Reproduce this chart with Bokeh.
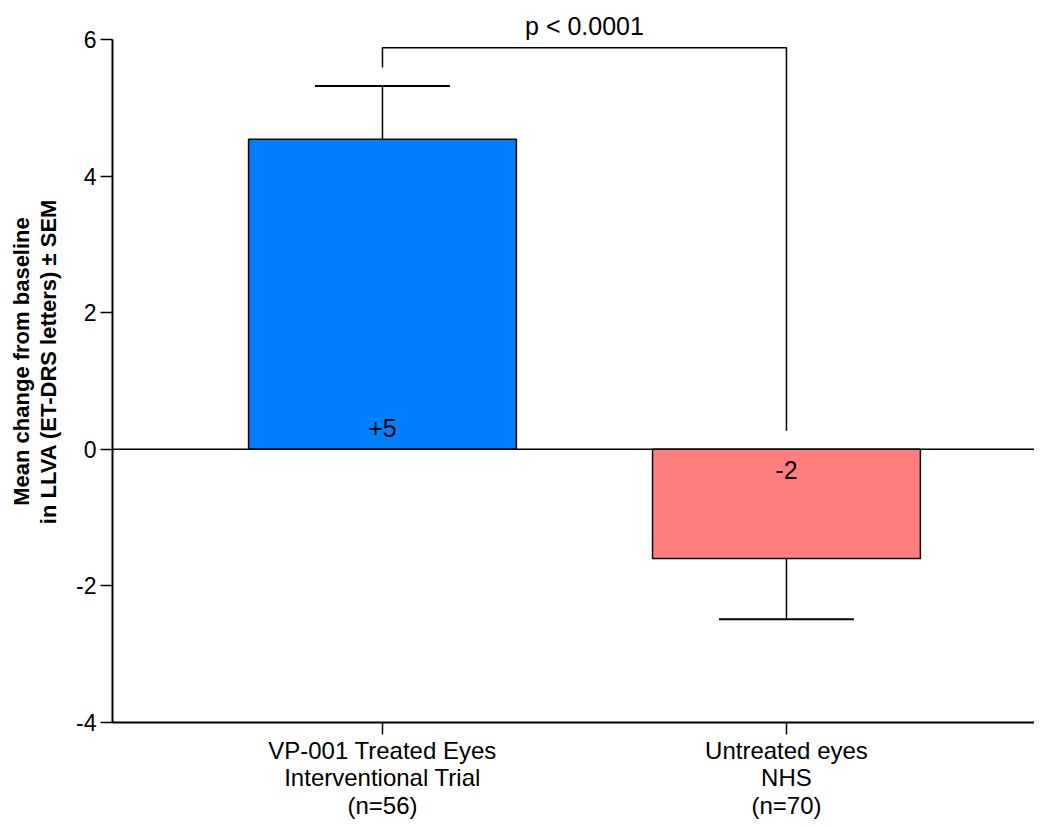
from bokeh.plotting import figure
from bokeh.models import FixedTicker, Span, Range1d, ColumnDataSource
from bokeh.core.properties import value
from bokeh.embed import file_html
from bokeh.resources import INLINE
import numpy as np

# ---- data ----
categories = ["VP-001 Treated Eyes\nInterventional Trial\n(n=56)",
              "Untreated eyes\nNHS\n(n=70)"]
means = [4.54, -1.60]
sems = [0.78, 0.89]
bar_labels = ["+5", "-2"]
bar_colors = ["#007FFF", "#FF7F7F"]
p_text = "p < 0.0001"
y_ticks = [-4, -2, 0, 2, 4, 6]

FONT = "Liberation Sans"

xs = np.arange(1, len(categories) + 1, dtype=float)
m = np.array(means)
s = np.array(sems)
sign = np.sign(m)
err_end = m + sign * s

p = figure(frame_width=922, frame_height=722, output_backend="svg",
           toolbar_location=None,
           x_range=Range1d(0.3317, 2.614), y_range=Range1d(-4, 6.57),
           min_border_left=112, min_border_right=0, min_border_top=0,
           min_border_bottom=0)
p.outline_line_color = None
p.xgrid.visible = False
p.ygrid.visible = False
p.background_fill_color = "white"
p.border_fill_color = "white"

# bars
src = ColumnDataSource(dict(x=xs, top=m, color=bar_colors))
p.vbar(x="x", top="top", bottom=0, width=0.663, fill_color="color",
       line_color="black", line_width=1.5, source=src)

# zero line
p.add_layout(Span(location=0, dimension="width", line_color="black", line_width=1.5))

# error bars
cap_w = 0.334
p.segment(x0=xs, y0=m, x1=xs, y1=err_end, line_color="black", line_width=1.5)
p.segment(x0=xs - cap_w / 2, y0=err_end, x1=xs + cap_w / 2, y1=err_end,
          line_color="black", line_width=2)

# bar value labels
p.text(x=xs, y=sign * 0.31, text=bar_labels, text_align="center",
       text_baseline="middle", text_font=value(FONT), text_font_size="25px",
       text_color="black")

# significance bracket
br_top = 5.88
gap = 0.27
left_bottom = err_end[0] + gap
right_bottom = max(0, err_end[1]) + gap
p.line(x=[xs[0], xs[0], xs[1], xs[1]], y=[left_bottom, br_top, br_top, right_bottom],
       line_color="black", line_width=1.5)
p.text(x=[xs.mean()], y=[br_top + 0.32], text=[p_text], text_align="center",
       text_baseline="middle", text_font=value(FONT), text_font_size="25px",
       text_color="black")

# y axis
ya = p.yaxis[0]
ya.ticker = FixedTicker(ticks=y_ticks)
ya.major_label_overrides = {t: str(t) for t in y_ticks}
ya.bounds = (-4, 6)
ya.minor_tick_line_color = None
ya.major_tick_in = 0
ya.major_tick_out = 12
ya.major_tick_line_width = 1.5
ya.axis_line_width = 2
ya.major_label_text_font = FONT
ya.major_label_text_font_size = "23px"
ya.major_label_text_color = "black"
ya.major_label_standoff = 4
ya.axis_label = "Mean change from baseline\nin LLVA (ET-DRS letters) \u00b1 SEM"
ya.axis_label_text_font = FONT
ya.axis_label_text_font_style = "bold"
ya.axis_label_text_font_size = "22px"
ya.axis_label_text_line_height = 1.1
ya.axis_label_text_color = "black"
ya.axis_label_standoff = 12

# x axis
xa = p.xaxis[0]
xa.ticker = FixedTicker(ticks=list(xs))
xa.major_label_overrides = {float(x): c for x, c in zip(xs, categories)}
xa.minor_tick_line_color = None
xa.major_tick_in = 0
xa.major_tick_out = 12
xa.major_tick_line_width = 1.5
xa.axis_line_width = 2
xa.major_label_text_font = FONT
xa.major_label_text_font_size = "24px"
xa.major_label_text_line_height = 1.02
xa.major_label_text_color = "black"
xa.major_label_standoff = 2

open("out.html", "w").write(file_html(p, INLINE))
